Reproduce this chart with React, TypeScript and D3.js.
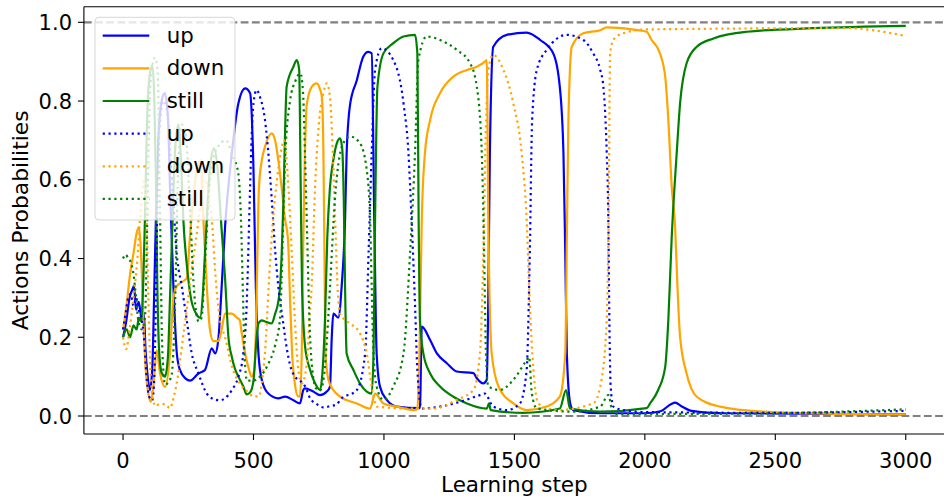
import React from "react";
import * as d3 from "d3";

// ---- data: [learning step, probability] ----
const upSolid: [number, number][] = [[0,0.2],[12,0.24],[25,0.3],[35,0.32],[42,0.33],[50,0.27],[60,0.29],[72,0.245],[80,0.26],[86,0.17],[93,0.11],[103,0.066],[112,0.12],[120,0.33],[126,0.5],[135,0.7],[148,0.8],[160,0.82],[172,0.76],[180,0.58],[193,0.33],[206,0.16],[218,0.117],[240,0.095],[257,0.09],[289,0.108],[314,0.117],[340,0.172],[353,0.159],[365,0.193],[378,0.328],[391,0.48],[417,0.667],[442,0.794],[468,0.832],[487,0.82],[500,0.625],[509,0.328],[519,0.159],[532,0.091],[557,0.057],[595,0.045],[621,0.049],[653,0.04],[678,0.032],[691,0.066],[697,0.07],[729,0.062],[755,0.053],[781,0.062],[793,0.074],[800,0.2],[806,0.26],[825,0.25],[838,0.33],[851,0.5],[857,0.667],[870,0.79],[896,0.853],[921,0.913],[940,0.925],[953,0.921],[963,0.498],[972,0.159],[985,0.074],[1011,0.041],[1049,0.024],[1138,0.02],[1145,0.227],[1177,0.193],[1203,0.159],[1241,0.134],[1279,0.113],[1343,0.109],[1356,0.096],[1381,0.083],[1394,0.092],[1400,0.3],[1406,0.667],[1419,0.938],[1471,0.968],[1547,0.974],[1599,0.955],[1649,0.921],[1674,0.836],[1688,0.667],[1695,0.413],[1701,0.159],[1714,0.032],[1726,0.015],[1829,0.007],[2000,0.007],[2060,0.012],[2100,0.03],[2116,0.034],[2140,0.025],[2180,0.013],[2300,0.007],[3000,0.004]];

const downSolid: [number, number][] = [[0,0.218],[14,0.286],[27,0.36],[40,0.413],[52,0.464],[61,0.48],[69,0.413],[78,0.244],[87,0.117],[97,0.057],[107,0.036],[116,0.074],[129,0.167],[142,0.108],[161,0.074],[180,0.159],[193,0.3],[206,0.33],[225,0.34],[244,0.35],[257,0.46],[270,0.56],[285,0.63],[297,0.65],[308,0.5],[321,0.33],[333,0.22],[346,0.19],[365,0.19],[378,0.22],[391,0.26],[417,0.26],[436,0.25],[448,0.243],[453,0.218],[468,0.159],[480,0.125],[493,0.1],[503,0.117],[510,0.24],[515,0.413],[521,0.582],[532,0.65],[544,0.684],[570,0.718],[583,0.7],[595,0.65],[608,0.58],[621,0.5],[632,0.45],[640,0.3],[648,0.16],[659,0.08],[671,0.05],[678,0.05],[685,0.16],[690,0.41],[695,0.6],[704,0.79],[723,0.836],[742,0.845],[755,0.83],[762,0.81],[768,0.667],[772,0.41],[776,0.16],[787,0.092],[806,0.066],[832,0.049],[896,0.032],[947,0.019],[966,0.057],[998,0.032],[1049,0.024],[1119,0.015],[1128,0.02],[1136,0.159],[1145,0.498],[1157,0.667],[1177,0.752],[1215,0.82],[1266,0.862],[1318,0.879],[1356,0.887],[1387,0.9],[1394,0.904],[1400,0.498],[1413,0.159],[1439,0.075],[1496,0.032],[1547,0.015],[1624,0.024],[1674,0.049],[1695,0.159],[1701,0.45],[1707,0.752],[1720,0.938],[1764,0.972],[1829,0.98],[1854,0.987],[1950,0.982],[2007,0.976],[2026,0.955],[2058,0.921],[2078,0.862],[2090,0.752],[2103,0.582],[2116,0.481],[2125,0.328],[2135,0.201],[2160,0.108],[2199,0.049],[2288,0.024],[2455,0.011],[2700,0.006],[3000,0.004]];

const stillSolid: [number, number][] = [[0,0.2],[14,0.22],[27,0.2],[40,0.23],[52,0.22],[61,0.25],[69,0.24],[78,0.35],[84,0.5],[92,0.75],[103,0.87],[113,0.89],[120,0.8],[126,0.6],[131,0.35],[138,0.17],[148,0.11],[161,0.1],[172,0.15],[180,0.3],[190,0.5],[200,0.68],[212,0.74],[222,0.65],[231,0.5],[245,0.38],[260,0.3],[280,0.26],[295,0.25],[305,0.3],[313,0.4],[321,0.5],[333,0.63],[349,0.68],[362,0.63],[375,0.5],[391,0.35],[404,0.2],[417,0.15],[429,0.12],[442,0.1],[461,0.075],[474,0.055],[487,0.06],[500,0.09],[512,0.2],[519,0.235],[532,0.243],[544,0.24],[570,0.235],[583,0.26],[595,0.29],[602,0.33],[608,0.41],[615,0.55],[621,0.72],[627,0.836],[653,0.887],[666,0.904],[675,0.88],[681,0.58],[686,0.33],[698,0.175],[717,0.117],[736,0.083],[755,0.066],[765,0.117],[774,0.244],[783,0.455],[793,0.58],[806,0.65],[819,0.692],[832,0.705],[840,0.68],[846,0.55],[851,0.328],[857,0.159],[883,0.117],[908,0.083],[934,0.062],[953,0.057],[960,0.159],[966,0.498],[975,0.836],[998,0.921],[1036,0.947],[1075,0.964],[1119,0.968],[1128,0.921],[1133,0.498],[1138,0.244],[1151,0.159],[1177,0.108],[1215,0.075],[1266,0.049],[1318,0.032],[1394,0.019],[1403,0.032],[1409,0.015],[1534,0.008],[1674,0.019],[1698,0.066],[1713,0.019],[1829,0.011],[2007,0.02],[2020,0.032],[2051,0.066],[2078,0.125],[2090,0.244],[2103,0.455],[2122,0.667],[2135,0.794],[2160,0.896],[2199,0.938],[2263,0.959],[2391,0.976],[2646,0.985],[3000,0.991]];

const upDotted: [number, number][] = [[0,0.22],[10,0.26],[20,0.3],[30,0.31],[40,0.28],[50,0.3],[60,0.27],[70,0.25],[80,0.2],[90,0.1],[100,0.05],[112,0.04],[120,0.1],[127,0.35],[133,0.6],[142,0.75],[155,0.8],[168,0.78],[180,0.68],[192,0.55],[206,0.41],[225,0.33],[244,0.244],[263,0.16],[289,0.108],[321,0.057],[340,0.045],[370,0.04],[391,0.045],[417,0.066],[442,0.1],[461,0.159],[474,0.286],[480,0.413],[487,0.582],[493,0.71],[500,0.794],[512,0.828],[525,0.81],[544,0.752],[557,0.667],[570,0.55],[583,0.42],[595,0.33],[613,0.24],[628,0.17],[640,0.13],[659,0.1],[678,0.09],[698,0.075],[717,0.045],[743,0.03],[767,0.022],[793,0.025],[820,0.03],[832,0.041],[896,0.066],[928,0.159],[941,0.413],[953,0.667],[966,0.879],[991,0.934],[1036,0.904],[1075,0.794],[1094,0.667],[1106,0.498],[1119,0.286],[1128,0.117],[1145,0.019],[1215,0.024],[1291,0.036],[1368,0.053],[1387,0.057],[1419,0.024],[1471,0.015],[1521,0.032],[1547,0.117],[1559,0.413],[1568,0.752],[1586,0.879],[1624,0.93],[1701,0.968],[1764,0.955],[1802,0.921],[1829,0.879],[1841,0.836],[1848,0.768],[1854,0.667],[1860,0.498],[1864,0.244],[1869,0.075],[1879,0.024],[1917,0.015],[2000,0.01],[2500,0.008],[3000,0.013]];

const downDotted: [number, number][] = [[0,0.2],[12,0.17],[25,0.22],[40,0.3],[55,0.4],[65,0.5],[75,0.58],[82,0.6],[90,0.5],[97,0.3],[105,0.12],[115,0.04],[125,0.025],[140,0.03],[160,0.03],[180,0.02],[195,0.05],[210,0.1],[230,0.2],[250,0.3],[265,0.38],[280,0.45],[290,0.5],[305,0.58],[318,0.6],[330,0.55],[340,0.5],[355,0.35],[370,0.25],[391,0.2],[420,0.12],[450,0.08],[480,0.06],[500,0.05],[520,0.05],[535,0.1],[544,0.16],[560,0.35],[575,0.5],[590,0.6],[605,0.67],[617,0.7],[634,0.58],[647,0.41],[659,0.24],[672,0.117],[685,0.083],[704,0.13],[715,0.25],[723,0.33],[736,0.58],[749,0.73],[768,0.82],[781,0.845],[793,0.81],[804,0.667],[813,0.498],[822,0.33],[832,0.26],[851,0.244],[870,0.235],[908,0.21],[934,0.159],[953,0.075],[972,0.024],[1088,0.019],[1190,0.019],[1279,0.041],[1343,0.066],[1368,0.159],[1381,0.413],[1390,0.71],[1400,0.879],[1419,0.917],[1458,0.879],[1496,0.794],[1528,0.667],[1547,0.498],[1559,0.286],[1573,0.117],[1592,0.032],[1662,0.015],[1802,0.032],[1829,0.075],[1854,0.244],[1861,0.498],[1867,0.921],[1879,0.955],[1917,0.972],[2007,0.982],[2774,0.985],[3000,0.965]];

const stillDotted: [number, number][] = [[0,0.4],[10,0.41],[20,0.4],[30,0.39],[40,0.36],[50,0.3],[59,0.24],[72,0.22],[84,0.25],[93,0.5],[100,0.75],[110,0.88],[123,0.91],[133,0.87],[142,0.5],[150,0.18],[161,0.08],[185,0.1],[200,0.3],[210,0.6],[225,0.74],[240,0.72],[255,0.55],[272,0.32],[290,0.24],[301,0.25],[315,0.4],[333,0.6],[360,0.68],[395,0.7],[420,0.66],[441,0.62],[452,0.5],[460,0.3],[466,0.15],[475,0.09],[500,0.09],[525,0.1],[555,0.13],[583,0.18],[602,0.25],[612,0.45],[621,0.65],[640,0.8],[660,0.85],[680,0.87],[690,0.82],[698,0.65],[706,0.45],[714,0.25],[725,0.12],[740,0.07],[755,0.065],[770,0.1],[782,0.2],[795,0.35],[812,0.55],[830,0.66],[851,0.7],[870,0.71],[908,0.693],[934,0.625],[947,0.498],[953,0.328],[960,0.159],[972,0.075],[998,0.041],[1036,0.075],[1075,0.159],[1100,0.413],[1119,0.667],[1132,0.904],[1164,0.964],[1215,0.955],[1279,0.93],[1330,0.896],[1356,0.836],[1375,0.667],[1384,0.413],[1391,0.159],[1400,0.075],[1445,0.066],[1496,0.092],[1547,0.142],[1556,0.15],[1567,0.057],[1586,0.019],[1726,0.011],[1829,0.024],[1860,0.053],[1879,0.005],[2400,0.006],[2700,0.01],[3000,0.017]];

const xTicks = [0, 500, 1000, 1500, 2000, 2500, 3000];
const yTicks = [0.0, 0.2, 0.4, 0.6, 0.8, 1.0];
const legendLabels = ["up", "down", "still", "up", "down", "still"];

const BLUE = "#0000ff", ORANGE = "#ffa500", GREEN = "#008000";

const series = [
  { data: upSolid, color: BLUE, dotted: false },
  { data: downSolid, color: ORANGE, dotted: false },
  { data: stillSolid, color: GREEN, dotted: false },
  { data: upDotted, color: BLUE, dotted: true },
  { data: downDotted, color: ORANGE, dotted: true },
  { data: stillDotted, color: GREEN, dotted: true },
];

const W = 944, H = 501;
const left = 83.9, right = 944.9, top = 6.7, bottom = 434;
const x = d3.scaleLinear().domain([-150, 3150]).range([left, right]);
const y = d3.scaleLinear().domain([-0.0457, 1.0396]).range([bottom, top]);

const line = d3.line<[number, number]>()
  .x((d) => x(d[0]))
  .y((d) => y(d[1]))
  .curve(d3.curveMonotoneX);

const FONT = "DejaVu Sans, sans-serif";
const LW = 2.2;
const DOTS = "2.2 3.6";

export default function App() {
  const lg = { x: 95, y: 17.3, w: 140, h: 202.7 };
  return (
    <svg width={W} height={H} style={{ position: "absolute", left: 0, top: 0, background: "#fff" }} fontFamily={FONT}>
      <defs>
        <clipPath id="plot">
          <rect x={left} y={top} width={right - left} height={bottom - top} />
        </clipPath>
      </defs>
      <rect x={0} y={0} width={W} height={H} fill="#fff" />
      <g clipPath="url(#plot)">
        {series.map((s, i) => (
          <path key={i} d={line(s.data) || ""} fill="none" stroke={s.color} strokeWidth={LW}
            strokeDasharray={s.dotted ? DOTS : undefined} strokeLinejoin="round" />
        ))}
        {[0, 1].map((v) => (
          <line key={v} x1={left} x2={right} y1={y(v)} y2={y(v)} stroke="#808080" strokeWidth={2.2} strokeDasharray="7.8 3.4" />
        ))}
      </g>
      {/* spines */}
      <line x1={left} x2={left} y1={top} y2={bottom} stroke="#000" strokeWidth={1.1} />
      <line x1={left} x2={right} y1={top} y2={top} stroke="#000" strokeWidth={1.1} />
      <line x1={left} x2={right} y1={bottom} y2={bottom} stroke="#000" strokeWidth={1.1} />
      {/* x ticks */}
      {xTicks.map((t) => (
        <g key={t}>
          <line x1={x(t)} x2={x(t)} y1={bottom} y2={bottom + 6} stroke="#000" strokeWidth={1.1} />
          <text x={x(t)} y={467.5} textAnchor="middle" fontSize={21} fill="#000">{t}</text>
        </g>
      ))}
      {yTicks.map((t) => (
        <g key={t}>
          <line x1={left - 6} x2={left} y1={y(t)} y2={y(t)} stroke="#000" strokeWidth={1.1} />
          <text x={72} y={y(t) + 7.7} textAnchor="end" fontSize={21} fill="#000">{t.toFixed(1)}</text>
        </g>
      ))}
      <text x={(left + right) / 2} y={492} textAnchor="middle" fontSize={21.5} fill="#000">Learning step</text>
      <text transform={`translate(28.3, ${(top + bottom) / 2}) rotate(-90)`} textAnchor="middle" fontSize={21.8} fill="#000">Actions Probabilities</text>
      {/* legend */}
      <rect x={lg.x} y={lg.y} width={lg.w} height={lg.h} rx={4} fill="#fff" fillOpacity={0.8} stroke="#cccccc" strokeOpacity={0.8} strokeWidth={1} />
      {series.map((s, i) => {
        const ry = 35.7 + i * 32.65;
        return (
          <g key={i}>
            <line x1={102.7} x2={149.3} y1={ry} y2={ry} stroke={s.color} strokeWidth={LW} strokeDasharray={s.dotted ? DOTS : undefined} />
            <text x={166.7} y={ry + 7} fontSize={21.3} fill="#000">{legendLabels[i]}</text>
          </g>
        );
      })}
    </svg>
  );
}
